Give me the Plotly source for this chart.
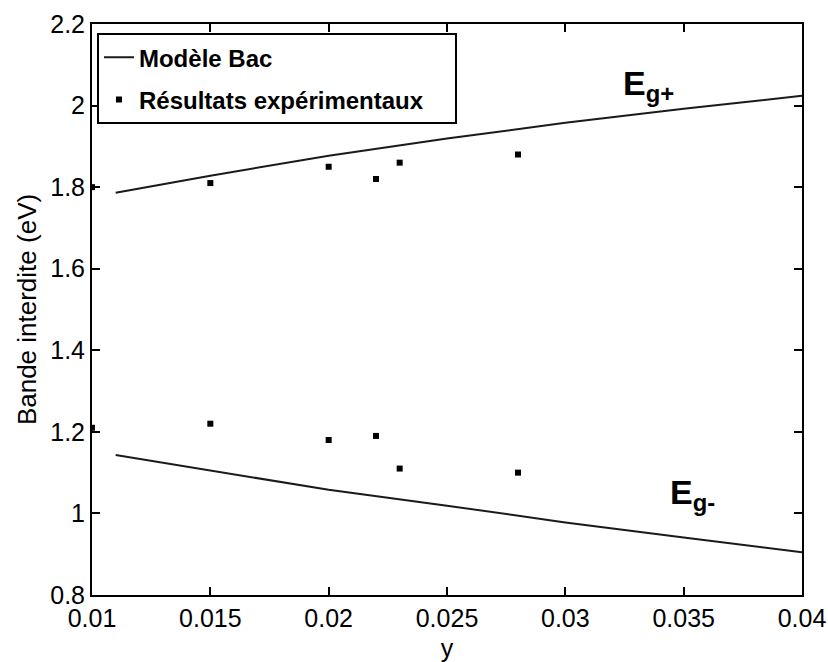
import plotly.graph_objects as go

# Model curves (Modèle Bac)
model_y = [0.011, 0.015, 0.02, 0.025, 0.03, 0.035, 0.04]
eg_plus = [1.786, 1.828, 1.877, 1.919, 1.958, 1.992, 2.024]
eg_minus = [1.143, 1.105, 1.058, 1.019, 0.978, 0.941, 0.905]

# Experimental results
exp_y = [0.01, 0.015, 0.02, 0.022, 0.023, 0.028]
exp_upper = [1.80, 1.81, 1.85, 1.82, 1.86, 1.88]
exp_lower = [1.21, 1.22, 1.18, 1.19, 1.11, 1.10]

x_ticks = [0.01, 0.015, 0.02, 0.025, 0.03, 0.035, 0.04]
x_tick_text = ["0.01", "0.015", "0.02", "0.025", "0.03", "0.035", "0.04"]
y_ticks = [0.8, 1.0, 1.2, 1.4, 1.6, 1.8, 2.0, 2.2]
y_tick_text = ["0.8", "1", "1.2", "1.4", "1.6", "1.8", "2", "2.2"]

FONT = "Liberation Sans, Arial, sans-serif"

fig = go.Figure()
fig.add_trace(go.Scatter(x=model_y, y=eg_plus, mode="lines", name="<b>Modèle Bac</b>",
                         line=dict(color="#1a1a1a", width=2), legendgroup="m"))
fig.add_trace(go.Scatter(x=model_y, y=eg_minus, mode="lines", name="<b>Modèle Bac</b>",
                         line=dict(color="#1a1a1a", width=2), legendgroup="m",
                         showlegend=False))
fig.add_trace(go.Scatter(x=exp_y + exp_y, y=exp_upper + exp_lower, mode="markers",
                         name="<b>Résultats expérimentaux</b>&nbsp;&nbsp;&nbsp;&nbsp;",
                         legendgroup="e",
                         marker=dict(symbol="square", size=6, color="black")))

fig.add_annotation(x=0.03235, y=2.049, text="<b>E<sub>g+</sub></b>", showarrow=False,
                   xanchor="left", yanchor="middle",
                   font=dict(family=FONT, size=34, color="black"))
fig.add_annotation(x=0.03435, y=1.046, text="<b>E<sub>g-</sub></b>", showarrow=False,
                   xanchor="left", yanchor="middle",
                   font=dict(family=FONT, size=34, color="black"))

axis_common = dict(showline=True, linecolor="black", linewidth=2, mirror="ticks",
                   ticks="inside", ticklen=8, tickwidth=2, tickcolor="black",
                   showgrid=False, zeroline=False, automargin=False,
                   tickfont=dict(family=FONT, size=25, color="black"))

fig.update_xaxes(range=[0.01, 0.04], tickvals=x_ticks, ticktext=x_tick_text,
                 title=dict(text="y", font=dict(family=FONT, size=25, color="black"),
                            standoff=8),
                 **axis_common)
fig.update_yaxes(range=[0.8, 2.2], tickvals=y_ticks, ticktext=y_tick_text,
                 title=dict(text="Bande interdite (eV)",
                            font=dict(family=FONT, size=26, color="black"), standoff=6),
                 **axis_common)

fig.update_layout(
    width=828, height=662,
    margin=dict(l=92, r=26, t=24, b=67),
    paper_bgcolor="white", plot_bgcolor="white",
    showlegend=True,
    legend=dict(x=0.007, y=0.984, xanchor="left", yanchor="top",
                bgcolor="white", bordercolor="black", borderwidth=2,
                font=dict(family=FONT, size=24, color="black"),
                traceorder="grouped", tracegroupgap=8, itemwidth=30),
)

fig.write_html("out.html")
